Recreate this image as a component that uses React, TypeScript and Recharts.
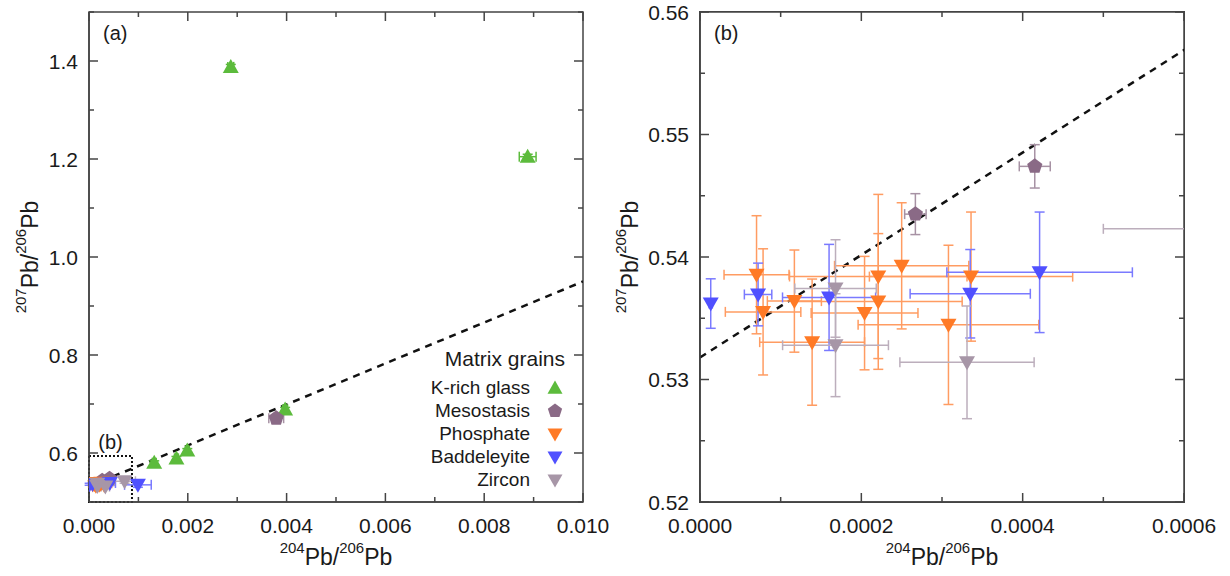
import React from 'react';
import { ScatterChart, Scatter, XAxis, YAxis, ErrorBar, ReferenceLine, ReferenceArea } from 'recharts';

// 204Pb/206Pb (x), 207Pb/206Pb (y), with 2 sigma errors ex / ey
const kRichGlass = [
  { x: 0.00132, y: 0.58, ex: 0.00004, ey: 0.004 },
  { x: 0.00177, y: 0.589, ex: 0.00004, ey: 0.004 },
  { x: 0.00199, y: 0.605, ex: 0.00004, ey: 0.004 },
  { x: 0.00397, y: 0.689, ex: 0.00005, ey: 0.004 },
  { x: 0.00287, y: 1.388, ex: 0.00006, ey: 0.005 },
  { x: 0.00888, y: 1.2047, ex: 0.00017, ey: 0.005 },
];

const mesostasis = [
  { x: 0.000267, y: 0.5435, ex: 0.0000133, ey: 0.00167 },
  { x: 0.000415, y: 0.5474, ex: 0.0000192, ey: 0.00177 },
  { x: 0.00379, y: 0.671, ex: 0.00015, ey: 0.006 },
];

const phosphate = [
  { x: 0.0000701, y: 0.53855, ex: 0.0000403, ey: 0.00482 },
  { x: 0.0000782, y: 0.53552, ex: 0.0000468, ey: 0.00515 },
  { x: 0.000117, y: 0.5364, ex: 0.0000335, ey: 0.00417 },
  { x: 0.000139, y: 0.53305, ex: 0.000065, ey: 0.00515 },
  { x: 0.000204, y: 0.53542, ex: 0.0000662, ey: 0.00463 },
  { x: 0.000221, y: 0.53841, ex: 0.00011, ey: 0.0067 },
  { x: 0.000221, y: 0.53637, ex: 0.000104, ey: 0.00554 },
  { x: 0.00025, y: 0.53928, ex: 0.0000832, ey: 0.00515 },
  { x: 0.000308, y: 0.53446, ex: 0.000112, ey: 0.0065 },
  { x: 0.000336, y: 0.5384, ex: 0.000126, ey: 0.00527 },
];

const baddeleyite = [
  { x: 0.0000133, y: 0.5362, ex: 0.000002, ey: 0.00202 },
  { x: 0.000072, y: 0.53694, ex: 0.000017, ey: 0.00256 },
  { x: 0.00016, y: 0.5367, ex: 0.0000577, ey: 0.00433 },
  { x: 0.000335, y: 0.537, ex: 0.0000745, ey: 0.00361 },
  { x: 0.000421, y: 0.53875, ex: 0.000115, ey: 0.00492 },
  { x: 0.00099, y: 0.535, ex: 0.00027, ey: 0.005 },
];

const zircon = [
  { x: 0.000168, y: 0.53743, ex: 0.0000505, ey: 0.00398 },
  { x: 0.000168, y: 0.5328, ex: 0.0000656, ey: 0.0042 },
  { x: 0.000331, y: 0.5314, ex: 0.0000832, ey: 0.0046 },
  { x: 0.00072, y: 0.5423, ex: 0.00022, ey: 0.004 },
];

// dashed reference line end points
const refLine = [
  { x: 0, y: 0.5318 },
  { x: 0.01, y: 0.95 },
];

// zoom box of panel (b) drawn on panel (a)
const zoomBox = { x1: 0, x2: 0.00087, y1: 0.5, y2: 0.594 };

const aXTicks = [0, 0.001, 0.002, 0.003, 0.004, 0.005, 0.006, 0.007, 0.008, 0.009, 0.01];
const aXMajor = [0, 0.002, 0.004, 0.006, 0.008, 0.01];
const aYTicks = [0.5, 0.6, 0.7, 0.8, 0.9, 1.0, 1.1, 1.2, 1.3, 1.4, 1.5];
const aYMajor = [0.6, 0.8, 1.0, 1.2, 1.4];

const bXTicks = [0, 0.0001, 0.0002, 0.0003, 0.0004, 0.0005, 0.0006];
const bXMajor = [0, 0.0002, 0.0004, 0.0006];
const bYTicks = [0.52, 0.525, 0.53, 0.535, 0.54, 0.545, 0.55, 0.555, 0.56];
const bYMajor = [0.52, 0.53, 0.54, 0.55, 0.56];

const groups = [
  { name: 'K-rich glass', data: kRichGlass, color: '#5cbb3c', bar: '#5cbb3c', shape: 'up' },
  { name: 'Mesostasis', data: mesostasis, color: '#8a6a86', bar: '#a792a4', shape: 'pent' },
  { name: 'Phosphate', data: phosphate, color: '#ff7a26', bar: '#ff9c62', shape: 'down' },
  { name: 'Baddeleyite', data: baddeleyite, color: '#5050ff', bar: '#7a7aff', shape: 'down' },
  { name: 'Zircon', data: zircon, color: '#a796a7', bar: '#bcaebc', shape: 'down' },
];

const FONT = '"Liberation Sans", Arial, Helvetica, sans-serif';
const AXIS = '#444';
const H = 576;

function markerPath(shape: string, cx: number, cy: number, r = 8) {
  if (shape === 'up') {
    return `M${cx},${cy - r}L${cx + r},${cy + r * 0.75}L${cx - r},${cy + r * 0.75}Z`;
  }
  if (shape === 'down') {
    return `M${cx},${cy + r}L${cx + r},${cy - r * 0.75}L${cx - r},${cy - r * 0.75}Z`;
  }
  let d = '';
  for (let i = 0; i < 5; i++) {
    const a = -Math.PI / 2 + (i * 2 * Math.PI) / 5;
    d += `${i === 0 ? 'M' : 'L'}${cx + r * Math.cos(a)},${cy + r * Math.sin(a)}`;
  }
  return d + 'Z';
}

const isMajor = (list: number[], v: number) => list.some((m) => Math.abs(m - v) < 1e-9);

// bottom ticks point inward and are mirrored on the top edge (span = plot height)
function bottomTick(majors: number[], digits: number, span: number) {
  return (props: any) => {
    const { x, y, payload } = props;
    const v = payload.value;
    const major = isMajor(majors, v);
    const len = major ? 9 : 5;
    return (
      <g stroke={AXIS} strokeWidth={1.5}>
        <line x1={x} y1={y} x2={x} y2={y - len} />
        <line x1={x} y1={y - span} x2={x} y2={y - span + len} />
        {major && (
          <text x={x} y={y + 31} textAnchor="middle" fontSize={21} fill="#1a1a1a" stroke="none" fontFamily={FONT}>
            {v.toFixed(digits)}
          </text>
        )}
      </g>
    );
  };
}

// left ticks, mirrored on the right edge (span = plot width)
function leftTick(majors: number[], digits: number, span: number) {
  return (props: any) => {
    const { x, y, payload } = props;
    const v = payload.value;
    const major = isMajor(majors, v);
    const len = major ? 9 : 5;
    return (
      <g stroke={AXIS} strokeWidth={1.5}>
        <line x1={x} y1={y} x2={x + len} y2={y} />
        <line x1={x + span} y1={y} x2={x + span - len} y2={y} />
        {major && (
          <text x={x - 11} y={y + 7.5} textAnchor="end" fontSize={21} fill="#1a1a1a" stroke="none" fontFamily={FONT}>
            {v.toFixed(digits)}
          </text>
        )}
      </g>
    );
  };
}

function IsoLabel({ top, bottom }: { top: string; bottom: string }) {
  return (
    <>
      <tspan fontSize={15} dy={-12}>{top}</tspan>
      <tspan fontSize={23} dy={12}>Pb/</tspan>
      <tspan fontSize={15} dy={-12}>{bottom}</tspan>
      <tspan fontSize={23} dy={12}>Pb</tspan>
    </>
  );
}

function xTitle(props: any) {
  const vb = props.viewBox;
  return (
    <text x={vb.x + vb.width / 2} y={vb.y + 63} textAnchor="middle" fontSize={23} fill="#1a1a1a" fontFamily={FONT}>
      <IsoLabel top="204" bottom="206" />
    </text>
  );
}

function yTitle(offsetX: number) {
  return (props: any) => {
    const vb = props.viewBox;
    const cx = vb.x + offsetX;
    const cy = vb.y + vb.height / 2;
    return (
      <text x={cx} y={cy} transform={`rotate(-90 ${cx} ${cy})`} textAnchor="middle" fontSize={23} fill="#1a1a1a" fontFamily={FONT}>
        <IsoLabel top="207" bottom="206" />
      </text>
    );
  };
}

function Panel(props: {
  width: number;
  margin: any;
  yWidth: number;
  xHeight: number;
  xDomain: number[];
  yDomain: number[];
  xTicks: number[];
  xMajor: number[];
  yTicks: number[];
  yMajor: number[];
  xDigits: number;
  yDigits: number;
  yTitleX: number;
  tag: string;
  showBox: boolean;
}) {
  const p = props;
  const plotH = H - p.margin.top - p.xHeight;
  const plotW = p.width - p.margin.left - p.margin.right - p.yWidth;
  return (
    <ScatterChart width={p.width} height={H} margin={p.margin}>
      <XAxis
        type="number"
        dataKey="x"
        domain={p.xDomain}
        ticks={p.xTicks}
        interval={0}
        allowDataOverflow
        height={p.xHeight}
        tickSize={0}
        tickMargin={0}
        tickLine={false}
        axisLine={{ stroke: AXIS, strokeWidth: 1.5 }}
        tick={bottomTick(p.xMajor, p.xDigits, plotH)}
        label={{ content: xTitle }}
      />
      <YAxis
        type="number"
        dataKey="y"
        domain={p.yDomain}
        ticks={p.yTicks}
        interval={0}
        allowDataOverflow
        width={p.yWidth}
        tickSize={0}
        tickMargin={0}
        tickLine={false}
        axisLine={{ stroke: AXIS, strokeWidth: 1.5 }}
        tick={leftTick(p.yMajor, p.yDigits, plotW)}
        label={{ content: yTitle(p.yTitleX) }}
      />
      {/* plot frame */}
      <ReferenceArea
        x1={p.xDomain[0]}
        x2={p.xDomain[1]}
        y1={p.yDomain[0]}
        y2={p.yDomain[1]}
        fill="none"
        stroke={AXIS}
        strokeWidth={1.5}
        ifOverflow="visible"
      />
      {p.showBox && (
        <ReferenceArea
          x1={zoomBox.x1}
          x2={zoomBox.x2}
          y1={zoomBox.y1}
          y2={zoomBox.y2}
          fill="none"
          stroke="#111"
          strokeWidth={2}
          strokeDasharray="2 2"
          ifOverflow="visible"
          label={{ value: '(b)', position: 'top', fontSize: 20, fill: '#1a1a1a', fontFamily: FONT, dy: -2 }}
        />
      )}
      <ReferenceLine segment={refLine} stroke="#111" strokeWidth={2.5} strokeDasharray="7 6" ifOverflow="hidden" />
      {groups.map((g) => (
        <Scatter
          key={g.name}
          name={g.name}
          data={g.data}
          isAnimationActive={false}
          fill={g.color}
          shape={(sp: any) => <path d={markerPath(g.shape, sp.cx, sp.cy)} fill={g.color} />}
        >
          <ErrorBar dataKey="ex" direction="x" stroke={g.bar} strokeWidth={1.5} width={5} isAnimationActive={false} />
          <ErrorBar dataKey="ey" direction="y" stroke={g.bar} strokeWidth={1.5} width={5} isAnimationActive={false} />
        </Scatter>
      ))}
      <text x={p.margin.left + p.yWidth + 14} y={40} fontSize={20} fill="#1a1a1a" fontFamily={FONT}>
        {p.tag}
      </text>
    </ScatterChart>
  );
}

function MatrixLegend() {
  return (
    <div style={{ position: 'absolute', left: 400, top: 346, width: 165, fontFamily: FONT, color: '#1a1a1a' }}>
      <div style={{ textAlign: 'right', fontSize: 21, lineHeight: '26px', marginBottom: 4 }}>Matrix grains</div>
      {groups.map((g) => (
        <div key={g.name} style={{ display: 'flex', justifyContent: 'flex-end', alignItems: 'center', height: 23 }}>
          <span style={{ fontSize: 19, lineHeight: '23px' }}>{g.name}</span>
          <svg width={30} height={20} style={{ marginLeft: 5 }}>
            <path d={markerPath(g.shape, 20, 10, 7.5)} fill={g.color} />
          </svg>
        </div>
      ))}
    </div>
  );
}

export default function App() {
  return (
    <div style={{ position: 'absolute', left: 0, top: 0, width: 1230, height: H, background: '#fff' }}>
      <div style={{ position: 'absolute', left: 0, top: 0 }}>
        <Panel
          width={625}
          margin={{ top: 12, right: 42, bottom: 0, left: 0 }}
          yWidth={89}
          xHeight={74}
          xDomain={[0, 0.01]}
          yDomain={[0.5, 1.5]}
          xTicks={aXTicks}
          xMajor={aXMajor}
          yTicks={aYTicks}
          yMajor={aYMajor}
          xDigits={3}
          yDigits={1}
          yTitleX={38}
          tag="(a)"
          showBox
        />
      </div>
      <MatrixLegend />
      <div style={{ position: 'absolute', left: 610, top: 0 }}>
        <Panel
          width={620}
          margin={{ top: 12, right: 46, bottom: 0, left: 0 }}
          yWidth={90}
          xHeight={74}
          xDomain={[0, 0.0006]}
          yDomain={[0.52, 0.56]}
          xTicks={bXTicks}
          xMajor={bXMajor}
          yTicks={bYTicks}
          yMajor={bYMajor}
          xDigits={4}
          yDigits={2}
          yTitleX={28}
          tag="(b)"
          showBox={false}
        />
      </div>
      {/* error bars running past the right frame of (b) are cut at the frame, as in the figure */}
      <div style={{ position: 'absolute', left: 1185, top: 0, width: 45, height: 505, background: '#fff' }} />
      {/* outline of panel (b) frame, drawn on top */}
      <div
        style={{
          position: 'absolute',
          left: 699,
          top: 11,
          width: 486,
          height: 492,
          border: `1.5px solid ${AXIS}`,
          boxSizing: 'border-box',
          pointerEvents: 'none',
        }}
      />
    </div>
  );
}
